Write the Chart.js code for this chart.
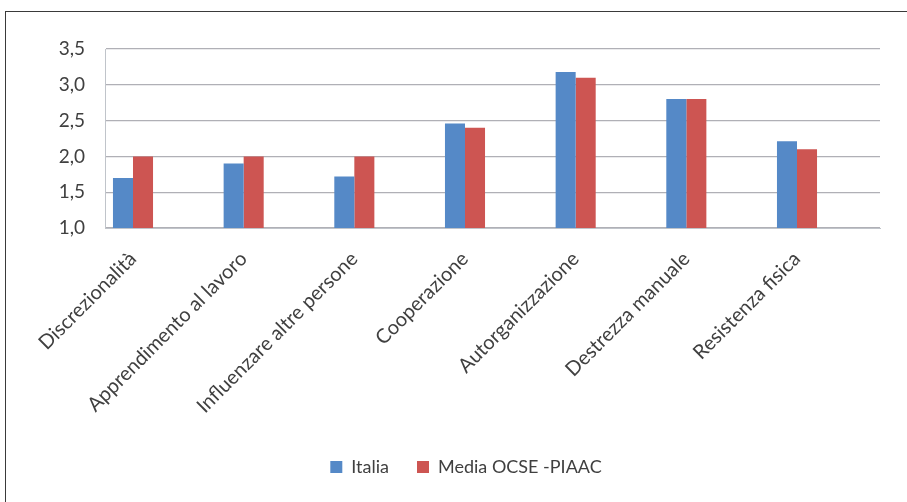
<!DOCTYPE html>
<html>
<head>
<meta charset="utf-8">
<script src="https://cdn.jsdelivr.net/npm/chart.js@4.4.1/dist/chart.umd.min.js"></script>
<style>
  html, body { margin: 0; padding: 0; background: #fff; }
  #wrap { position: relative; width: 907px; height: 502px; overflow: hidden; }
  #frame { position: absolute; left: 5px; top: 11px; width: 920px; height: 520px; border: 1px solid #3a3a3a; box-sizing: border-box; pointer-events: none; }
  canvas { position: absolute; left: 0; top: 0; }
</style>
</head>
<body>
<div id="wrap">
  <canvas id="c" width="907" height="502"></canvas>
  <div id="frame"></div>
</div>
<script>
const categories = ["Discrezionalità", "Apprendimento al lavoro", "Influenzare altre persone", "Cooperazione", "Autorganizzazione", "Destrezza manuale", "Resistenza fisica"];
const italia = [1.70, 1.90, 1.72, 2.46, 3.18, 2.80, 2.21];
const mediaOcse = [2.00, 2.00, 2.00, 2.40, 3.10, 2.80, 2.10];
const seriesNames = ["Italia", "Media OCSE -PIAAC"];
const yMin = 1.0, yMax = 3.5, yStep = 0.5;

const FONT = 'Lato, "Open Sans", sans-serif';
const TXT = '#404040';
const LEGEND_PAD = 28;

const legendShift = {
  id: 'legendShift',
  afterLayout(chart) {
    if (chart.legend) { chart.legend.left += 26; chart.legend.right += 26; }
  }
};

new Chart(document.getElementById('c'), {
  type: 'bar',
  data: {
    datasets: [
      { label: seriesNames[0], data: italia.map((v, i) => ({ x: i, y: v })), backgroundColor: '#5589C7', borderWidth: 0 },
      { label: seriesNames[1], data: mediaOcse.map((v, i) => ({ x: i, y: v })), backgroundColor: '#CD5552', borderWidth: 0 }
    ]
  },
  plugins: [legendShift],
  options: {
    responsive: false,
    animation: false,
    devicePixelRatio: 1,
    layout: { padding: { top: 49, right: 27, bottom: 16, left: 0 } },
    datasets: { bar: { categoryPercentage: 0.362, barPercentage: 1.0 } },
    plugins: {
      legend: {
        position: 'bottom',
        labels: {
          font: { family: FONT, size: 18 },
          color: TXT,
          boxWidth: 12,
          boxHeight: 12,
          padding: LEGEND_PAD
        }
      },
      tooltip: { enabled: false }
    },
    scales: {
      x: {
        type: 'linear',
        offset: false,
        min: -0.253,
        max: 6.75,
        grid: { display: false, drawTicks: false },
        border: { display: true, color: '#C0C4CA', width: 1 },
        ticks: {
          stepSize: 1,
          includeBounds: false,
          font: { family: FONT, size: 20 },
          color: TXT,
          minRotation: 45,
          maxRotation: 45,
          autoSkip: false,
          padding: 19,
          callback: (v) => (Number.isInteger(v) && categories[v] !== undefined) ? categories[v] : ''
        },
        afterFit: (s) => { s.height = 230 - LEGEND_PAD; }
      },
      y: {
        min: yMin,
        max: yMax,
        grid: { color: '#B0B0B6', lineWidth: 1.2, drawTicks: false },
        border: { display: true, color: '#C0C4CA', width: 1 },
        ticks: {
          stepSize: yStep,
          font: { family: FONT, size: 19 },
          color: TXT,
          padding: 20,
          callback: (v) => v.toFixed(1).replace('.', ',')
        },
        afterFit: (s) => { s.width = 105; }
      }
    }
  }
});
</script>
</body>
</html>
